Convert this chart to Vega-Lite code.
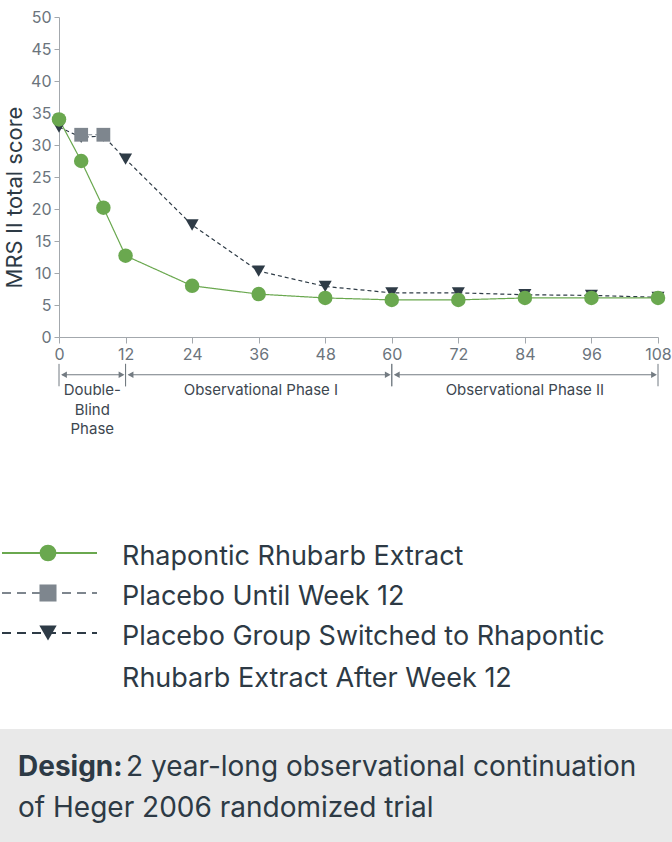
{
  "$schema": "https://vega.github.io/schema/vega-lite/v6.json",
  "padding": {"left": 0, "top": 9, "right": 0, "bottom": 0},
  "background": "white",
  "columns": 1,
  "spacing": 0,
  "bounds": "full",
  "resolve": {"scale": {"color": "independent", "shape": "independent", "size": "independent", "strokeDash": "independent", "x": "independent", "y": "independent"}},
  "config": {
    "font": "Inter",
    "view": {"stroke": null},
    "axis": {"grid": false, "labelOverlap": false},
    "axisY": {"labelOverlap": false, "tickSize": 5, "labelPadding": 3, "labelFontSize": 16, "labelColor": "#6b747c", "domainColor": "#a3a8ad", "tickColor": "#a3a8ad", "titleFontSize": 22, "titleFontWeight": "normal", "titleColor": "#2d3a45", "titlePadding": 4, "titleY": 180},
    "axisX": {"labelOverlap": false, "tickSize": 6, "labelPadding": 3, "labelFontSize": 16, "labelColor": "#6b747c", "domainColor": "#a3a8ad", "tickColor": "#a3a8ad", "labelFlush": false}
  },
  "datasets": {
    "main": [
      {"week": 0, "score": 32.8, "series": "Placebo Group Switched to Rhapontic Rhubarb Extract After Week 12"},
      {"week": 4, "score": 31.2, "series": "Placebo Group Switched to Rhapontic Rhubarb Extract After Week 12"},
      {"week": 8, "score": 31.4, "series": "Placebo Group Switched to Rhapontic Rhubarb Extract After Week 12"},
      {"week": 12, "score": 27.8, "series": "Placebo Group Switched to Rhapontic Rhubarb Extract After Week 12"},
      {"week": 24, "score": 17.5, "series": "Placebo Group Switched to Rhapontic Rhubarb Extract After Week 12"},
      {"week": 36, "score": 10.3, "series": "Placebo Group Switched to Rhapontic Rhubarb Extract After Week 12"},
      {"week": 48, "score": 7.9, "series": "Placebo Group Switched to Rhapontic Rhubarb Extract After Week 12"},
      {"week": 60, "score": 6.9, "series": "Placebo Group Switched to Rhapontic Rhubarb Extract After Week 12"},
      {"week": 72, "score": 6.9, "series": "Placebo Group Switched to Rhapontic Rhubarb Extract After Week 12"},
      {"week": 84, "score": 6.6, "series": "Placebo Group Switched to Rhapontic Rhubarb Extract After Week 12"},
      {"week": 96, "score": 6.5, "series": "Placebo Group Switched to Rhapontic Rhubarb Extract After Week 12"},
      {"week": 108, "score": 6.2, "series": "Placebo Group Switched to Rhapontic Rhubarb Extract After Week 12"},
      {"week": 4, "score": 31.6, "series": "Placebo Until Week 12"},
      {"week": 8, "score": 31.6, "series": "Placebo Until Week 12"},
      {"week": 0, "score": 34.0, "series": "Rhapontic Rhubarb Extract"},
      {"week": 4, "score": 27.5, "series": "Rhapontic Rhubarb Extract"},
      {"week": 8, "score": 20.2, "series": "Rhapontic Rhubarb Extract"},
      {"week": 12, "score": 12.7, "series": "Rhapontic Rhubarb Extract"},
      {"week": 24, "score": 8.0, "series": "Rhapontic Rhubarb Extract"},
      {"week": 36, "score": 6.7, "series": "Rhapontic Rhubarb Extract"},
      {"week": 48, "score": 6.1, "series": "Rhapontic Rhubarb Extract"},
      {"week": 60, "score": 5.8, "series": "Rhapontic Rhubarb Extract"},
      {"week": 72, "score": 5.8, "series": "Rhapontic Rhubarb Extract"},
      {"week": 84, "score": 6.1, "series": "Rhapontic Rhubarb Extract"},
      {"week": 96, "score": 6.1, "series": "Rhapontic Rhubarb Extract"},
      {"week": 108, "score": 6.1, "series": "Rhapontic Rhubarb Extract"}
    ],
    "phases": [
      {"phase": "Double-Blind Phase", "start": 0, "end": 12, "mid": 6, "label": ["Double-", "Blind", "Phase"]},
      {"phase": "Observational Phase I", "start": 12, "end": 60, "mid": 36.4, "label": "Observational Phase I"},
      {"phase": "Observational Phase II", "start": 60, "end": 108, "mid": 84, "label": "Observational Phase II"}
    ],
    "legend": [
      {"series": "Rhapontic Rhubarb Extract", "label": "Rhapontic Rhubarb Extract"},
      {"series": "Placebo Until Week 12", "label": "Placebo Until Week 12"},
      {"series": "Placebo Group Switched to Rhapontic Rhubarb Extract After Week 12", "label": ["Placebo Group Switched to Rhapontic", "Rhubarb Extract After Week 12"]}
    ]
  },
  "concat": [
    {
      "width": 599,
      "height": 320,
      "layer": [
        {
          "data": {"name": "main"},
          "mark": {"type": "line", "strokeWidth": 1.2},
          "encoding": {
            "x": {"field": "week", "type": "quantitative", "scale": {"domain": [0, 108], "nice": false},
              "axis": {"values": [0, 12, 24, 36, 48, 60, 72, 84, 96, 108], "title": null, "labelOverlap": false}},
            "y": {"field": "score", "type": "quantitative", "scale": {"domain": [0, 50], "nice": false},
              "axis": {"values": [0, 5, 10, 15, 20, 25, 30, 35, 40, 45, 50], "tickCount": 11, "title": "MRS II total score", "labelOverlap": false}},
            "color": {"field": "series", "type": "nominal", "legend": null,
              "scale": {"domain": ["Rhapontic Rhubarb Extract", "Placebo Until Week 12", "Placebo Group Switched to Rhapontic Rhubarb Extract After Week 12"], "range": ["#6aa84f", "#7e868e", "#2e3b46"]}},
            "strokeDash": {"field": "series", "type": "nominal", "legend": null,
              "scale": {"domain": ["Rhapontic Rhubarb Extract", "Placebo Until Week 12", "Placebo Group Switched to Rhapontic Rhubarb Extract After Week 12"], "range": [[1, 0], [4, 3], [4, 3]]}}
          }
        },
        {
          "data": {"name": "main"},
          "mark": {"type": "point", "filled": true, "opacity": 1},
          "encoding": {
            "x": {"field": "week", "type": "quantitative"},
            "y": {"field": "score", "type": "quantitative"},
            "color": {"field": "series", "type": "nominal", "legend": null},
            "shape": {"field": "series", "type": "nominal", "legend": null,
              "scale": {"domain": ["Rhapontic Rhubarb Extract", "Placebo Until Week 12", "Placebo Group Switched to Rhapontic Rhubarb Extract After Week 12"], "range": ["circle", "square", "triangle-down"]}},
            "size": {"field": "series", "type": "nominal", "legend": null,
              "scale": {"domain": ["Rhapontic Rhubarb Extract", "Placebo Until Week 12", "Placebo Group Switched to Rhapontic Rhubarb Extract After Week 12"], "range": [210, 170, 240]}}
          }
        },
        {
          "data": {"name": "phases"},
          "mark": {"type": "rule", "color": "#737b82", "strokeWidth": 1.2, "xOffset": 3, "x2Offset": -3},
          "encoding": {
            "x": {"field": "start", "type": "quantitative"},
            "x2": {"field": "end"},
            "y": {"datum": -5.9}
          }
        },
        {
          "data": {"name": "phases"},
          "mark": {"type": "point", "shape": "triangle-left", "size": 45, "filled": true, "opacity": 1, "color": "#737b82", "xOffset": 5},
          "encoding": {
            "x": {"field": "start", "type": "quantitative"},
            "y": {"datum": -5.9}
          }
        },
        {
          "data": {"name": "phases"},
          "mark": {"type": "point", "shape": "triangle-right", "size": 45, "filled": true, "opacity": 1, "color": "#737b82", "xOffset": -4},
          "encoding": {
            "x": {"field": "end", "type": "quantitative"},
            "y": {"datum": -5.9}
          }
        },
        {
          "data": {"name": "phases"},
          "mark": {"type": "rule", "color": "#737b82", "strokeWidth": 1},
          "encoding": {
            "x": {"field": "start", "type": "quantitative"},
            "y": {"datum": -4.2},
            "y2": {"datum": -7.7}
          }
        },
        {
          "data": {"name": "phases"},
          "mark": {"type": "rule", "color": "#737b82", "strokeWidth": 1},
          "encoding": {
            "x": {"field": "end", "type": "quantitative"},
            "y": {"datum": -4.2},
            "y2": {"datum": -7.7}
          }
        },
        {
          "data": {"name": "phases"},
          "mark": {"type": "text", "align": "center", "baseline": "top", "fontSize": 15, "lineHeight": 19.5, "color": "#3d4750"},
          "encoding": {
            "x": {"field": "mid", "type": "quantitative"},
            "y": {"datum": -7.2},
            "text": {"field": "label"}
          }
        }
      ]
    },
    {
      "width": 600,
      "height": 291,
      "data": {"name": "legend"},
      "layer": [
        {
          "mark": {"type": "rule", "strokeWidth": 2},
          "encoding": {
            "x": {"value": -57},
            "x2": {"value": 38},
            "y": {"field": "series", "type": "nominal", "axis": null,
              "scale": {"type": "point", "domain": ["Rhapontic Rhubarb Extract", "Placebo Until Week 12", "Placebo Group Switched to Rhapontic Rhubarb Extract After Week 12"], "range": [115, 195], "padding": 0}},
            "color": {"field": "series", "type": "nominal", "legend": null,
              "scale": {"domain": ["Rhapontic Rhubarb Extract", "Placebo Until Week 12", "Placebo Group Switched to Rhapontic Rhubarb Extract After Week 12"], "range": ["#6aa84f", "#7e868e", "#2e3b46"]}},
            "strokeDash": {"field": "series", "type": "nominal", "legend": null,
              "scale": {"domain": ["Rhapontic Rhubarb Extract", "Placebo Until Week 12", "Placebo Group Switched to Rhapontic Rhubarb Extract After Week 12"], "range": [[1, 0], [9, 6], [9, 6]]}}
          }
        },
        {
          "mark": {"type": "point", "filled": true, "opacity": 1},
          "encoding": {
            "x": {"value": -11},
            "y": {"field": "series", "type": "nominal", "axis": null},
            "color": {"field": "series", "type": "nominal", "legend": null},
            "shape": {"field": "series", "type": "nominal", "legend": null,
              "scale": {"domain": ["Rhapontic Rhubarb Extract", "Placebo Until Week 12", "Placebo Group Switched to Rhapontic Rhubarb Extract After Week 12"], "range": ["circle", "square", "triangle-down"]}},
            "size": {"field": "series", "type": "nominal", "legend": null,
              "scale": {"domain": ["Rhapontic Rhubarb Extract", "Placebo Until Week 12", "Placebo Group Switched to Rhapontic Rhubarb Extract After Week 12"], "range": [280, 300, 700]}}
          }
        },
        {
          "mark": {"type": "text", "align": "left", "baseline": "top", "fontSize": 27, "lineHeight": 42, "dy": -9, "color": "#2d3a45"},
          "encoding": {
            "x": {"value": 63},
            "y": {"field": "series", "type": "nominal", "axis": null},
            "text": {"field": "label"}
          }
        }
      ]
    },
    {
      "width": 613,
      "height": 113,
      "data": {"values": [{"head": "Design:", "line1": "2 year-long observational continuation", "line2": "of Heger 2006 randomized trial"}]},
      "layer": [
        {
          "mark": {"type": "rect", "color": "#e9e9e9"},
          "encoding": {"x": {"value": -59}, "x2": {"value": 613}, "y": {"value": 0}, "y2": {"value": 113}}
        },
        {
          "mark": {"type": "text", "align": "left", "baseline": "alphabetic", "fontSize": 28, "fontWeight": "bold", "color": "#2d3a45"},
          "encoding": {"x": {"value": -41}, "y": {"value": 47}, "text": {"field": "head"}}
        },
        {
          "mark": {"type": "text", "align": "left", "baseline": "alphabetic", "fontSize": 28, "color": "#2d3a45"},
          "encoding": {"x": {"value": 67}, "y": {"value": 47}, "text": {"field": "line1"}}
        },
        {
          "mark": {"type": "text", "align": "left", "baseline": "alphabetic", "fontSize": 28, "color": "#2d3a45"},
          "encoding": {"x": {"value": -41}, "y": {"value": 88}, "text": {"field": "line2"}}
        }
      ]
    }
  ]
}
